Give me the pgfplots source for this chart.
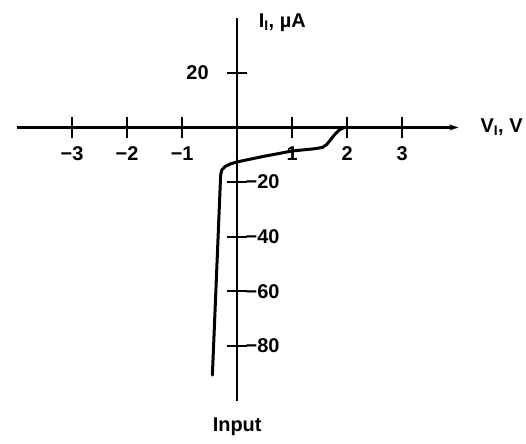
\documentclass[border=0pt]{standalone}
\usepackage{pgfplots}
\pgfplotsset{compat=1.18}
\usepackage{fontspec}
\setmainfont{Liberation Sans}
\usetikzlibrary{arrows.meta}
\begin{document}
\begin{tikzpicture}
\begin{axis}[
  scale only axis,
  width=441bp, height=382bp,
  axis lines=middle,
  xmin=-4.0, xmax=4.02, ymin=-100, ymax=40,
  axis line style={line width=2.4bp, black},
  x axis line style={-{Stealth[length=9bp,width=6bp]}},
  y axis line style={-},
  xtick={-3,-2,-1,1,2,3},
  xticklabels={−3,−2,−1,1,2,3},
  ytick={-80,-60,-40,-20},
  yticklabels={−80,−60,−40,−20},
  extra y ticks={20},
  extra y tick labels={20},
  tick align=center,
  major tick length=20bp,
  tick style={line width=2.2bp, black},
  ticklabel style={font=\fontsize{20}{24}\selectfont\bfseries},
  xticklabel style={anchor=north, yshift=-6bp},
  yticklabel style={anchor=west, xshift=15bp},
  extra y tick style={yticklabel style={anchor=east, xshift=-30bp}},
  clip=false,
]
\path (axis cs:-4.31,46.7) rectangle (axis cs:5.25,-115.9);
\addplot[black, line width=3bp, line join=round, line cap=round] coordinates {
  (-0.45,-90.7) (-0.30,-17.5) (-0.28,-15.6) (-0.22,-14.3) (-0.12,-13.3)
  (0,-12.6) (0.5,-10.5) (1.0,-8.6) (1.4,-7.8) (1.55,-7.3) (1.63,-6.2)
  (1.70,-4.4) (1.78,-2.4) (1.86,-0.8) (1.95,0)
};
\node[anchor=west, font=\fontsize{20}{24}\selectfont\bfseries] at (axis cs:0.33,38.3) {I\textsubscript{I}, µA};
\node[anchor=west, font=\fontsize{20}{24}\selectfont\bfseries] at (axis cs:4.36,0) {V\textsubscript{I}, V};
\node[font=\fontsize{20}{24}\selectfont\bfseries] at (axis cs:0,-109.7) {Input};
\end{axis}
\end{tikzpicture}
\end{document}
